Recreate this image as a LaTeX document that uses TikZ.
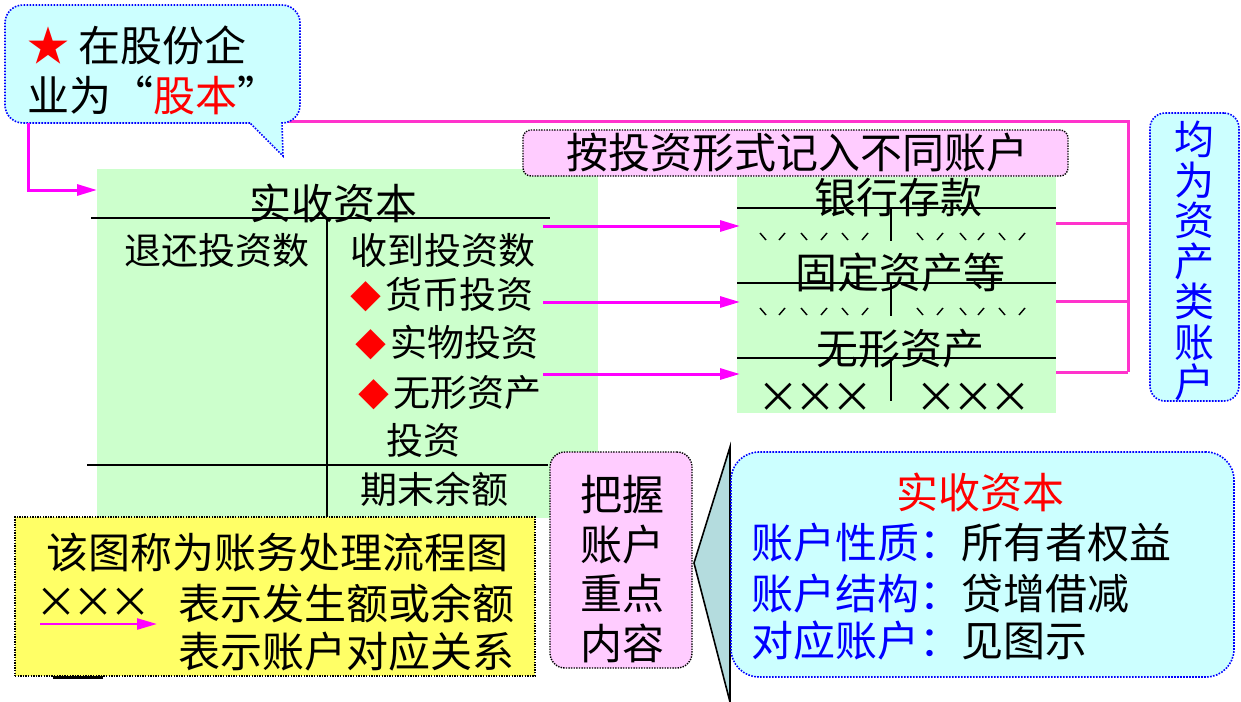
\documentclass[tikz,border=0pt]{standalone}
\usepackage{fontspec}
\setmainfont{Noto Sans CJK SC}
\usetikzlibrary{arrows.meta}
\definecolor{cy}{HTML}{CCFFFF}
\definecolor{gr}{HTML}{CCFFCC}
\definecolor{pk}{HTML}{FFCCFF}
\definecolor{yl}{HTML}{FFFF66}
\definecolor{mg}{HTML}{FF00FF}
\definecolor{pl}{HTML}{FF33CC}
\definecolor{bl}{HTML}{0000FF}
\definecolor{tf}{HTML}{B4DCDE}
\newcommand\xx{\makebox[37pt]{×}}
\newcommand\dia{{\fontsize{31}{31}\selectfont\color{red}◆}\hspace{4pt}}
\begin{document}
\begin{tikzpicture}[x=1pt,y=-1pt,
 txt/.style={inner sep=0pt, font=\fontsize{42}{50}\selectfont},
 sm/.style={inner sep=0pt, font=\fontsize{37}{44}\selectfont},
 dotb/.style={draw=bl, line width=1.6pt, dash pattern=on 1.6pt off 1.4pt},
 dotk/.style={draw=black, line width=1.4pt, dash pattern=on 1.4pt off 1.2pt},
 arr/.style={draw=mg, line width=3pt, -{Triangle[length=20pt,width=11pt]}},
 brk/.style={draw=pl, line width=3pt},
 tline/.style={draw=black, line width=2.2pt},
 tick/.style={draw=black, line width=1.4pt}]
\useasboundingbox (0,0) rectangle (1241,701);

% green areas
\fill[gr] (97,169) rectangle (598,518);
\fill[gr] (737,177) rectangle (1056,413);

% main T account
\coordinate (mL) at (91,218); \coordinate (mR) at (550,218);
\coordinate (mT) at (327,218); \coordinate (mB) at (327,518);
\coordinate (bL) at (87,465); \coordinate (bR) at (548,465);
\draw[tline] (mL) -- (mR);
\draw[tline] (mT) -- (mB);
\draw[tline] (bL) -- (bR);
\node[txt] (title) at (333,203) {实收资本};
\node[sm] (dec) at (217,250) {退还投资数};
\node[sm] (inc) at (443,250) {收到投资数};
\node[sm,anchor=west] (i1) at (350,295) {\dia 货币投资};
\node[sm,anchor=west] (i2) at (355,343) {\dia 实物投资};
\node[sm,anchor=west] (i3) at (358,393) {\dia 无形资产};
\node[sm,anchor=west] (i4) at (386,440) {投资};
\node[sm] (bal) at (434,489) {期末余额};

% right accounts
\foreach \y/\n in {208/r1,283/r2,358/r3}{
  \coordinate (\n L) at (737,\y); \coordinate (\n R) at (1056,\y);
  \draw[tline,line width=2pt] (\n L) -- (\n R);
}
\coordinate (v1a) at (891,208); \coordinate (v1b) at (891,241);
\coordinate (v2a) at (891,283); \coordinate (v2b) at (891,316);
\coordinate (v3a) at (891,358); \coordinate (v3b) at (891,401);
\draw[tline,line width=2pt] (v1a) -- (v1b);
\draw[tline,line width=2pt] (v2a) -- (v2b);
\draw[tline,line width=2pt] (v3a) -- (v3b);
\node[txt] (bank) at (898,198) {银行存款};
\node[txt] (fixed) at (900,273) {固定资产等};
\node[txt] (intang) at (900,349) {无形资产};
\foreach \yy in {237,312}{
  \foreach \xa/\xb in {763/782,804/824,845/865,920/940,963/981,1002/1022}{
    \draw[tick] (\xa-3,\yy-4) -- (\xa+3,\yy+3);
    \draw[tick] (\xb-3,\yy+3) -- (\xb+3,\yy-4);
  }
}
\node[txt] (xl) at (815,398) {\xx\xx\xx};
\node[txt] (xr) at (973,398) {\xx\xx\xx};

% arrows
\foreach \y/\n in {226/1,302/2,374/3}{
  \coordinate (as\n) at (543,\y); \coordinate (ae\n) at (740,\y);
  \draw[arr] (as\n) -- (ae\n);
}

% bracket lines
\coordinate (k0) at (288,121); \coordinate (k1) at (1128,121);
\coordinate (k2) at (1128,372);
\draw[brk] (k0) -- (k1) -- (k2);
\foreach \y/\n in {223/1,301/2,372/3}{
  \coordinate (kb\n) at (1056,\y); \coordinate (ke\n) at (1128,\y);
  \draw[brk] (kb\n) -- (ke\n);
}

% top-left callout
\path[fill=cy, dotb] (250,123) [rounded corners=18pt] -- (5,123) -- (5,5) -- (300,5) -- (300,123) [sharp corners] -- (282,123) -- (283,156) -- cycle;
\node[txt,anchor=west] (c1) at (27,45) {{\color{red}★} 在股份企};
\node[txt,anchor=west] (c2) at (27,95) {业为“{\color{red}股本}”};
\coordinate (lc0) at (28,123); \coordinate (lc1) at (28,190); \coordinate (lc2) at (97,190);
\draw[arr] (lc0) -- (lc1) -- (lc2);

% top pink label
\node[dotk, fill=pk, rounded corners=8pt, minimum width=545pt, minimum height=46pt, inner sep=0pt] (form) at (795.5,153) {};
\node[txt] (formt) at (797,153) {按投资形式记入不同账户};

% right callout
\node[dotb, fill=cy, rounded corners=15pt, minimum width=89pt, minimum height=288pt, inner sep=0pt] (asset) at (1194.5,257) {};
\node[txt, text=bl, align=center, font=\fontsize{40}{40.5}\selectfont] (assett) at (1194,261) {均\\为\\资\\产\\类\\账\\户};

% yellow legend
\node[dotk, fill=yl, minimum width=520pt, minimum height=159pt, inner sep=0pt] (legend) at (275,596.5) {};
\node[txt] (lg1) at (277,553) {该图称为账务处理流程图};
\node[txt,anchor=west] (lg2) at (38,603) {\xx\xx\xx};
\node[txt] (lg3) at (346,603) {表示发生额或余额};
\node[txt] (lg4) at (346,652) {表示账户对应关系};
\coordinate (la0) at (40,624); \coordinate (la1) at (157,624);
\draw[arr,line width=2.5pt] (la0) -- (la1);
\coordinate (u0) at (53,677); \coordinate (u1) at (103,677);
\draw[line width=3pt] (u0) -- (u1);

% pink key box
\node[dotk, fill=pk, rounded corners=15pt, minimum width=142pt, minimum height=216pt, inner sep=0pt] (key) at (621,560) {};
\node[txt, align=center, font=\fontsize{42}{49.5}\selectfont] (keyt) at (622,569) {把握\\账户\\重点\\内容};

% bottom-right callout
\coordinate (t0) at (730,447); \coordinate (t1) at (694,563); \coordinate (t2) at (730,702);
\fill[tf] (t0) -- (t1) -- (t2) -- cycle;
\draw[black, line width=1.6pt] (t0) -- (t1) -- (t2) -- cycle;
\node[dotb, fill=cy, rounded corners=28pt, minimum width=503pt, minimum height=225pt, inner sep=0pt] (info) at (982.5,564.5) {};
\node[txt, text=red] (inf0) at (980,492) {实收资本};
\node[txt, anchor=west] (inf1) at (751,543) {{\color{bl}账户性质：}所有者权益};
\node[txt, anchor=west] (inf2) at (751,594) {{\color{bl}账户结构：}贷增借减};
\node[txt, anchor=west] (inf3) at (751,641) {{\color{bl}对应账户：}见图示};
\end{tikzpicture}
\end{document}
